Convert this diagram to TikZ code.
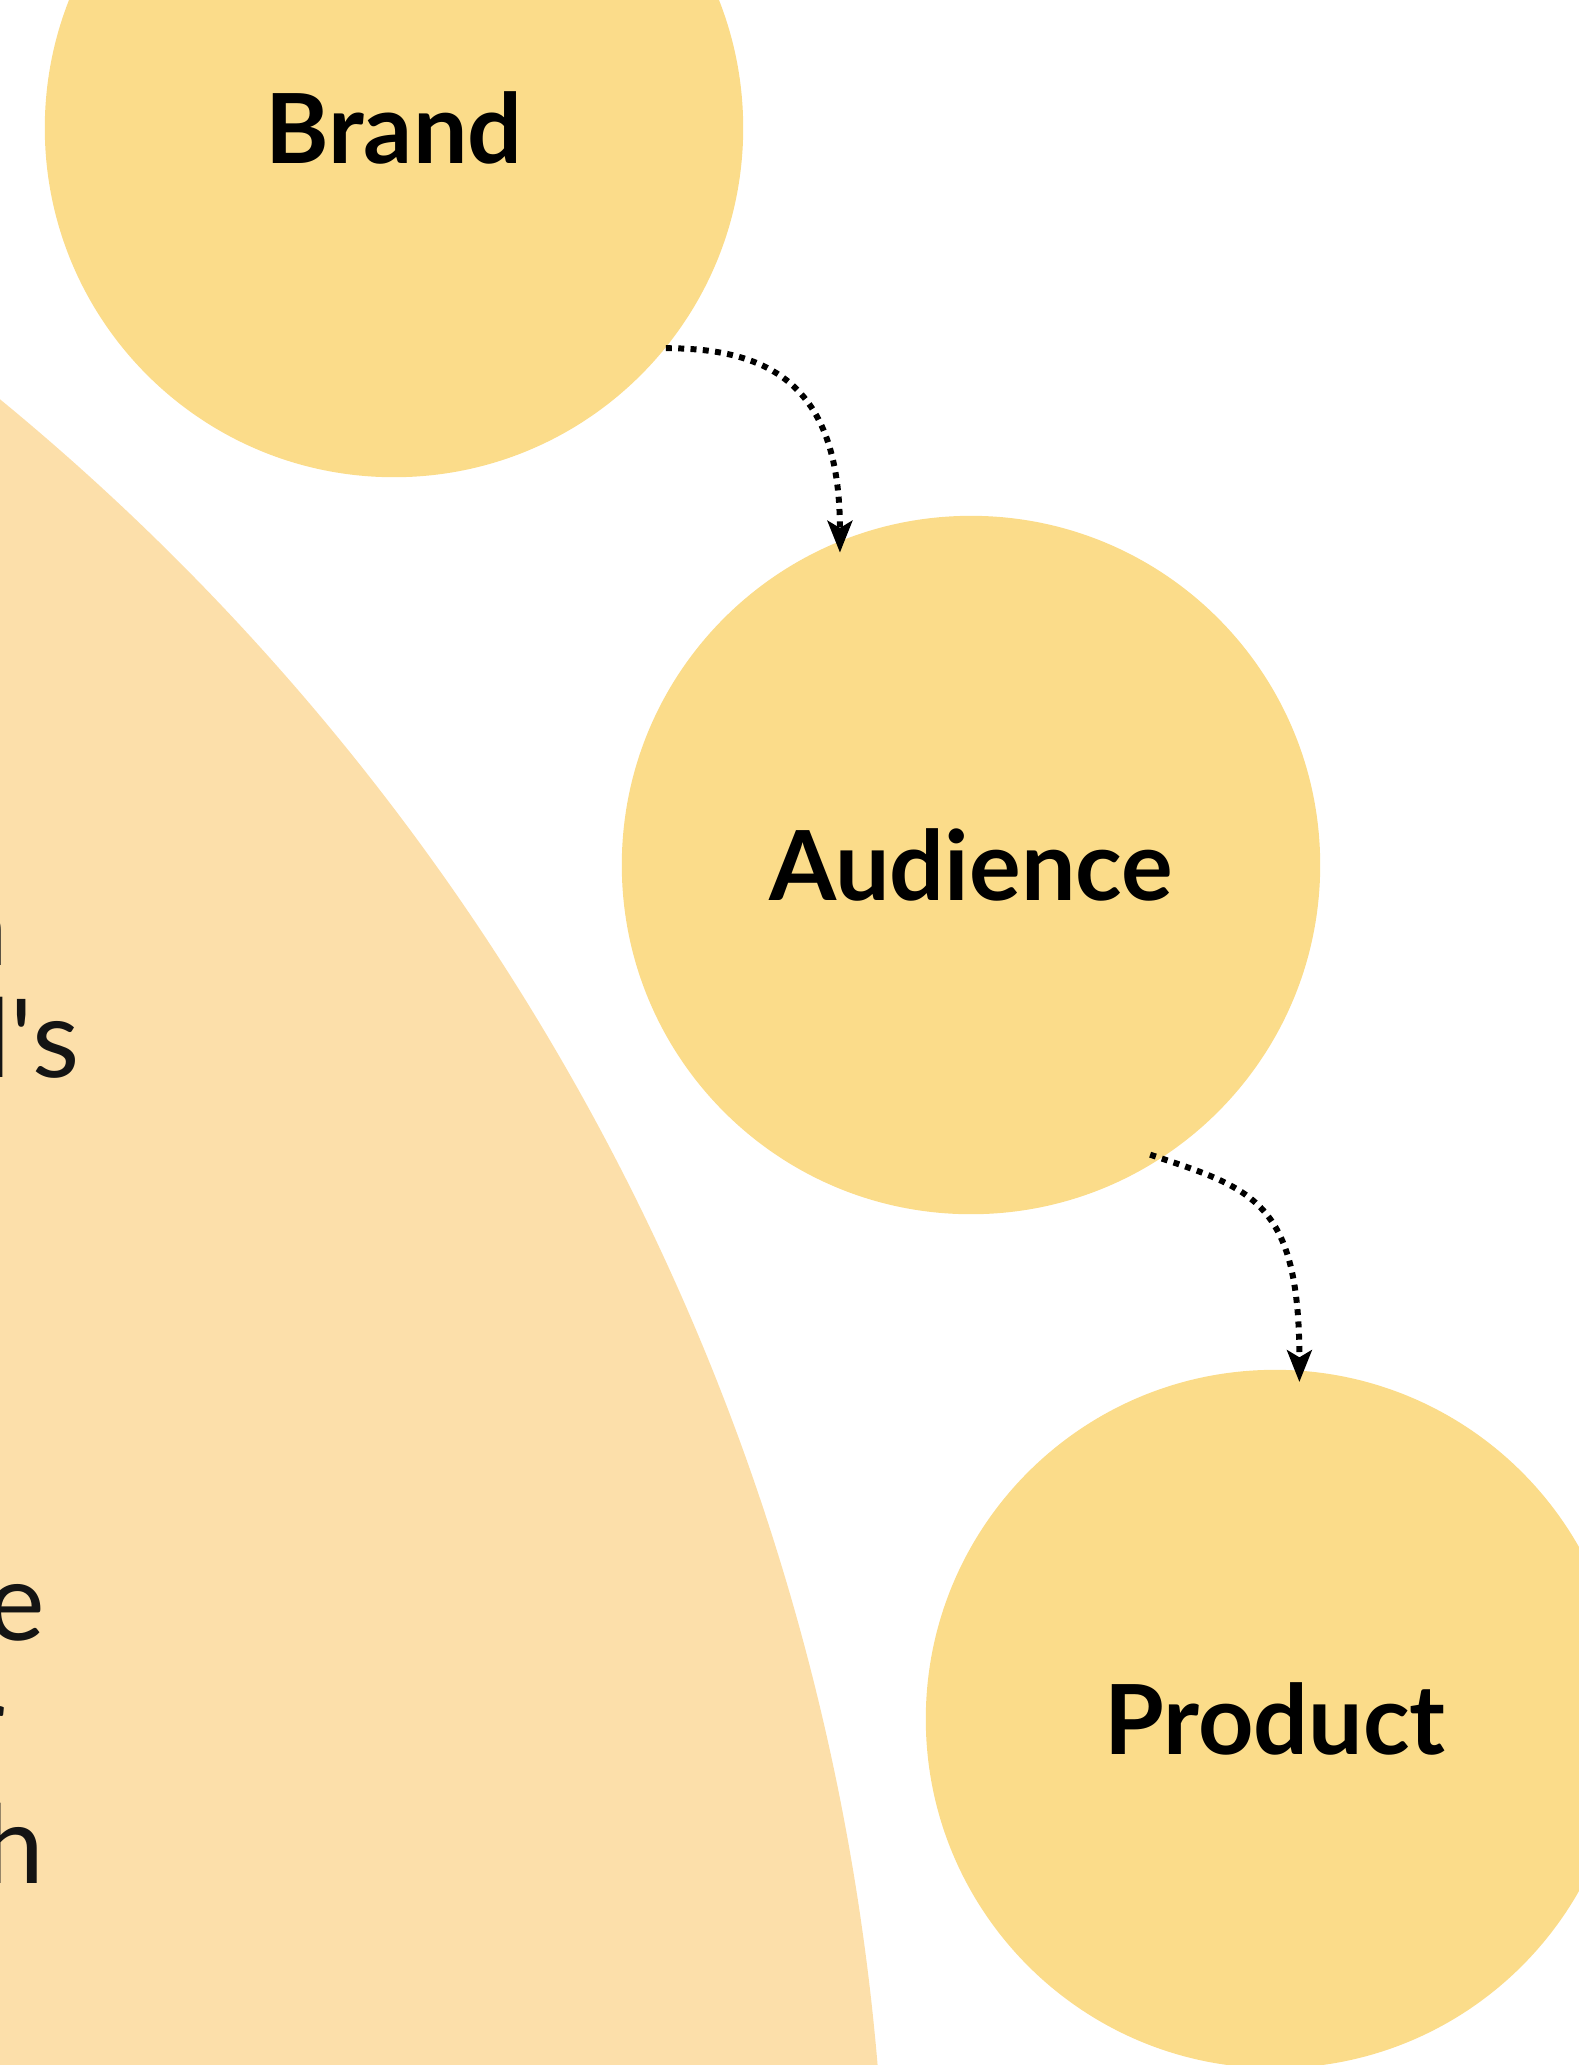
\documentclass[tikz,border=0pt]{standalone}
\usepackage{fontspec}
\setmainfont{Lato}
\newfontfamily\notefont{Lato}
\usetikzlibrary{arrows.meta}
\definecolor{petal}{RGB}{251,220,138}
\definecolor{sand}{RGB}{252,223,170}
\definecolor{ink}{RGB}{20,20,20}
\tikzset{
  topic/.style={circle, fill=petal, inner sep=0pt, minimum size=6.98cm, text=black, font=\fontsize{27.5}{30}\selectfont\bfseries},
  note/.style={inner sep=0pt, text=ink, font=\notefont\fontsize{31}{36}\selectfont},
  flow/.style={line width=1.7pt, dash pattern=on 1.7pt off 1.8pt, shorten >=-0.12cm, -{Stealth[length=9pt,width=7pt,inset=2pt]}}
}
\begin{document}
\begin{tikzpicture}[x=0.01cm, y=-0.01cm, line join=round]
			\def \W{1579};
			\def \H{2065};
			\useasboundingbox (0,0) rectangle (\W,\H);
			\clip (0,0) rectangle (\W,\H);
			% large backdrop disc coming in from the left
			\fill[sand] (-1537,2273) circle (24.22cm);
			\foreach \t/\x/\y [count=\i] in {n/9/965, d's/80/1077, e/46/1640, r/6/1762, h/45/1883}
				\node[note, anchor=base east] (line\i) at (\x,\y) {\t};
			\foreach \n/\x/\y/\l in {brand/394/128/Brand, audience/971/865/Audience, product/1275/1719/Product}
				\node[topic] (\n) at (\x,\y) {\l};
			\draw[flow] (brand.-39) .. controls +(110,0) and +(0,-150) .. (audience.112);
			\draw[flow, shorten <=-0.12cm] (audience.-57) .. controls +(90,30) and +(0,-170) .. (product.86);
		\end{tikzpicture}
\end{document}
